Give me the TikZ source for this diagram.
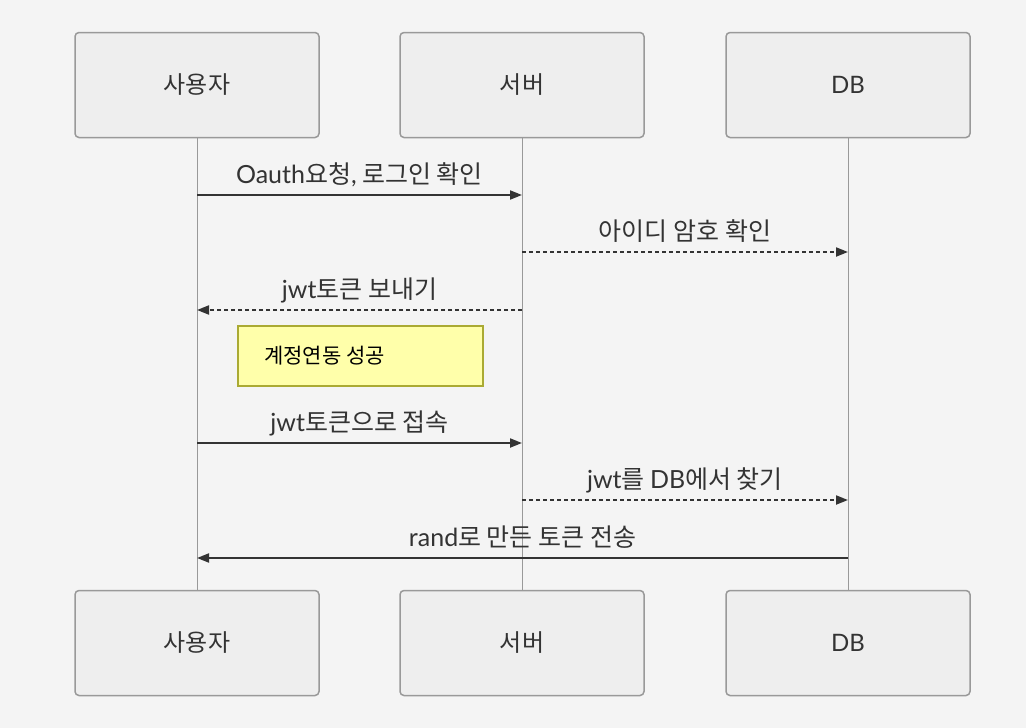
\documentclass[tikz,border=0pt]{standalone}
\usepackage{fontspec}
\setmainfont{Noto Sans CJK KR}
\newfontfamily\lat{Lato}
\usetikzlibrary{arrows.meta}
\definecolor{bg}{HTML}{F4F4F4}
\definecolor{actfill}{HTML}{EEEEEE}
\definecolor{actline}{HTML}{999999}
\definecolor{txt}{HTML}{333333}
\definecolor{notefill}{HTML}{FFFFAA}
\definecolor{noteline}{HTML}{AAAA33}
\tikzset{
  actor/.style={draw=actline, fill=actfill, line width=1.5pt, rounded corners=4pt,
    minimum width=244pt, minimum height=105pt, inner sep=0pt, text=txt, font=\fontsize{24}{28}\selectfont},
  life/.style={draw=actline, line width=1pt},
  msg/.style={draw=txt, line width=2pt, -{Triangle[length=12pt,width=9pt]}},
  dmsg/.style={msg, dash pattern=on 4pt off 3pt},
  lbl/.style={text=txt, font=\fontsize{25}{30}\selectfont, inner sep=0pt, anchor=base},
  note/.style={draw=noteline, fill=notefill, line width=1.5pt, minimum width=245pt, minimum height=60pt, inner sep=0pt}
}
\begin{document}
\begin{tikzpicture}[x=1pt,y=-1pt]
\fill[bg] (0,0) rectangle (1026,728);
\useasboundingbox (0,0) rectangle (1026,728);
% actors
\node[actor] (u1) at (197,85) {사용자};
\node[actor] (s1) at (522,85) {서버};
\node[actor] (d1) at (848,85) {{\lat DB}};
\node[actor] (u2) at (197,643) {사용자};
\node[actor] (s2) at (522,643) {서버};
\node[actor] (d2) at (848,643) {{\lat DB}};
% lifelines
\draw[life] (u1.south) -- (u2.north);
\draw[life] (s1.south) -- (s2.north);
\draw[life] (d1.south) -- (d2.north);
% message coordinates
\coordinate (u195) at (u1.south |- 0,195);
\coordinate (s195) at (s1.south |- 0,195);
\coordinate (s252) at (s1.south |- 0,252);
\coordinate (d252) at (d1.south |- 0,252);
\coordinate (s310) at (s1.south |- 0,310);
\coordinate (u310) at (u1.south |- 0,310);
\coordinate (u443) at (u1.south |- 0,443);
\coordinate (s443) at (s1.south |- 0,443);
\coordinate (s500) at (s1.south |- 0,500);
\coordinate (d500) at (d1.south |- 0,500);
\coordinate (d558) at (d1.south |- 0,558);
\coordinate (u558) at (u1.south |- 0,558);
% messages
\draw[msg] (u195) -- (s195);
\node[lbl] (l1) at (359.5,183) {{\lat Oauth}요청{\lat ,} 로그인 확인};
\draw[dmsg] (s252) -- (d252);
\node[lbl] (l2) at (685,240) {아이디 암호 확인};
\draw[dmsg] (s310) -- (u310);
\node[lbl] (l3) at (359.5,298) {{\lat jwt}토큰 보내기};
\node[note] (n1) at (360.5,356) {};
\node[anchor=west, inner sep=0pt, font=\fontsize{21}{24}\selectfont, text=black] (n1t) at (264,356) {계정연동 성공};
\draw[msg] (u443) -- (s443);
\node[lbl] (l4) at (359.5,431) {{\lat jwt}토큰으로 접속};
\draw[dmsg] (s500) -- (d500);
\node[lbl] (l5) at (685,488) {{\lat jwt}를 {\lat DB}에서 찾기};
\draw[msg] (d558) -- (u558);
\node[lbl] (l6) at (522.5,546) {{\lat rand}로 만든 토큰 전송};
\end{tikzpicture}
\end{document}
